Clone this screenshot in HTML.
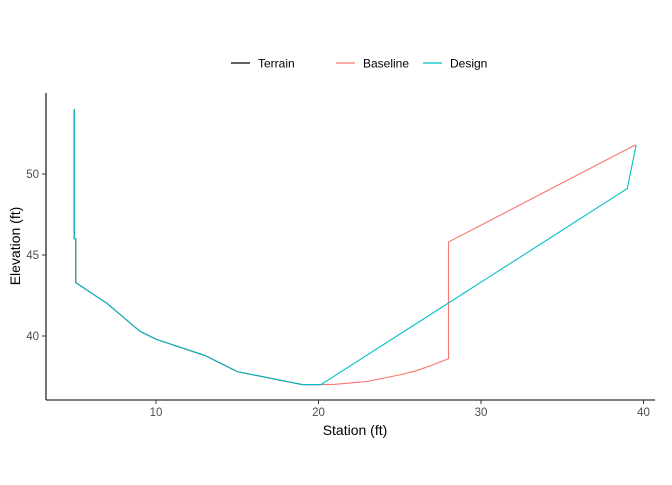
<!DOCTYPE html>
<html><head><meta charset="utf-8"><style>
body{margin:0;background:#fff;font-family:"Liberation Sans",Arial,sans-serif}
svg text{font-family:"Liberation Sans",Arial,sans-serif}
</style></head><body>
<svg id="c" width="672" height="480">
<g id="legend">
<g><line x1="231" y1="63" x2="250" y2="63" stroke="#000" stroke-width="1.2"/><text x="258" y="67.5" font-size="12" fill="#000">Terrain</text></g>
<g><line x1="336" y1="63" x2="355" y2="63" stroke="#F8766D" stroke-width="1.2"/><text x="363" y="67.5" font-size="12" fill="#000">Baseline</text></g>
<g><line x1="423" y1="63" x2="442" y2="63" stroke="#00BFC4" stroke-width="1.2"/><text x="450" y="67.5" font-size="12" fill="#000">Design</text></g>
</g>
<g id="axes"></g>
<g id="series"></g>
<text x="355" y="435" font-size="14" text-anchor="middle" fill="#000">Station (ft)</text>
<text transform="translate(20,246) rotate(-90)" font-size="14" text-anchor="middle" fill="#000">Elevation (ft)</text>
</svg>
<script>
const xTicks=[10,20,30,40];
const yTicks=[40,45,50];
const terrainX=[4.97,4.97,5.06,5.06,7,9,10,13,15,19,20.15];
const terrainY=[54,46,46,43.3,42,40.3,39.8,38.8,37.8,37,37];
const baselineX=[4.97,4.97,5.06,5.06,7,9,10,13,15,19,20.15,21,22,23,24,25,26,27,28,28,39.5];
const baselineY=[54,46,46,43.3,42,40.3,39.8,38.8,37.8,37,37,37.02,37.1,37.2,37.4,37.6,37.85,38.2,38.6,45.8,51.8];
const designX=[4.97,4.97,5.06,5.06,7,9,10,13,15,19,20.15,39.0,39.55];
const designY=[54,46,46,43.3,42,40.3,39.8,38.8,37.8,37,37,49.1,51.8];
const sx=v=>156+(v-10)*16.25;
const sy=v=>174-(v-50)*16.2;
const NS="http://www.w3.org/2000/svg";
const ax=document.getElementById('axes'), se=document.getElementById('series');
function mk(tag,attrs,parent){const e=document.createElementNS(NS,tag);for(const k in attrs)e.setAttribute(k,attrs[k]);parent.appendChild(e);return e;}
let l=mk('line',{x1:46,y1:400,x2:655,y2:400,stroke:'#000','stroke-width':1.1},ax);


l=mk('line',{x1:46,y1:93,x2:46,y2:400,stroke:'#000','stroke-width':1.1},ax);


xTicks.forEach(t=>{const x=sx(t);
 const tk=mk('line',{x1:x,y1:400,x2:x,y2:404,stroke:'#333'},ax);
 
 
 const tx=mk('text',{x:x,y:416,'font-size':11.5,'text-anchor':'middle',fill:'#4d4d4d'},ax);tx.textContent=t;
 
 });
yTicks.forEach(t=>{const y=sy(t);
 const tk=mk('line',{x1:42,y1:y,x2:46,y2:y,stroke:'#333'},ax);
 
 
 const tx=mk('text',{x:39,y:y+4,'font-size':11.5,'text-anchor':'end',fill:'#4d4d4d'},ax);tx.textContent=t;
 
 });
function line(X,Y,col,name){const d=X.map((v,i)=>(i?'L':'M')+sx(v).toFixed(2)+','+sy(Y[i]).toFixed(2)).join('');
 const p=mk('path',{d:d,fill:'none',stroke:col,'stroke-width':1.1},se);
 
 }
line(terrainX,terrainY,'#000','terrain-line');
line(baselineX,baselineY,'#F8766D','baseline-line');
line(designX,designY,'#00BFC4','design-line');
</script>
</body></html>
